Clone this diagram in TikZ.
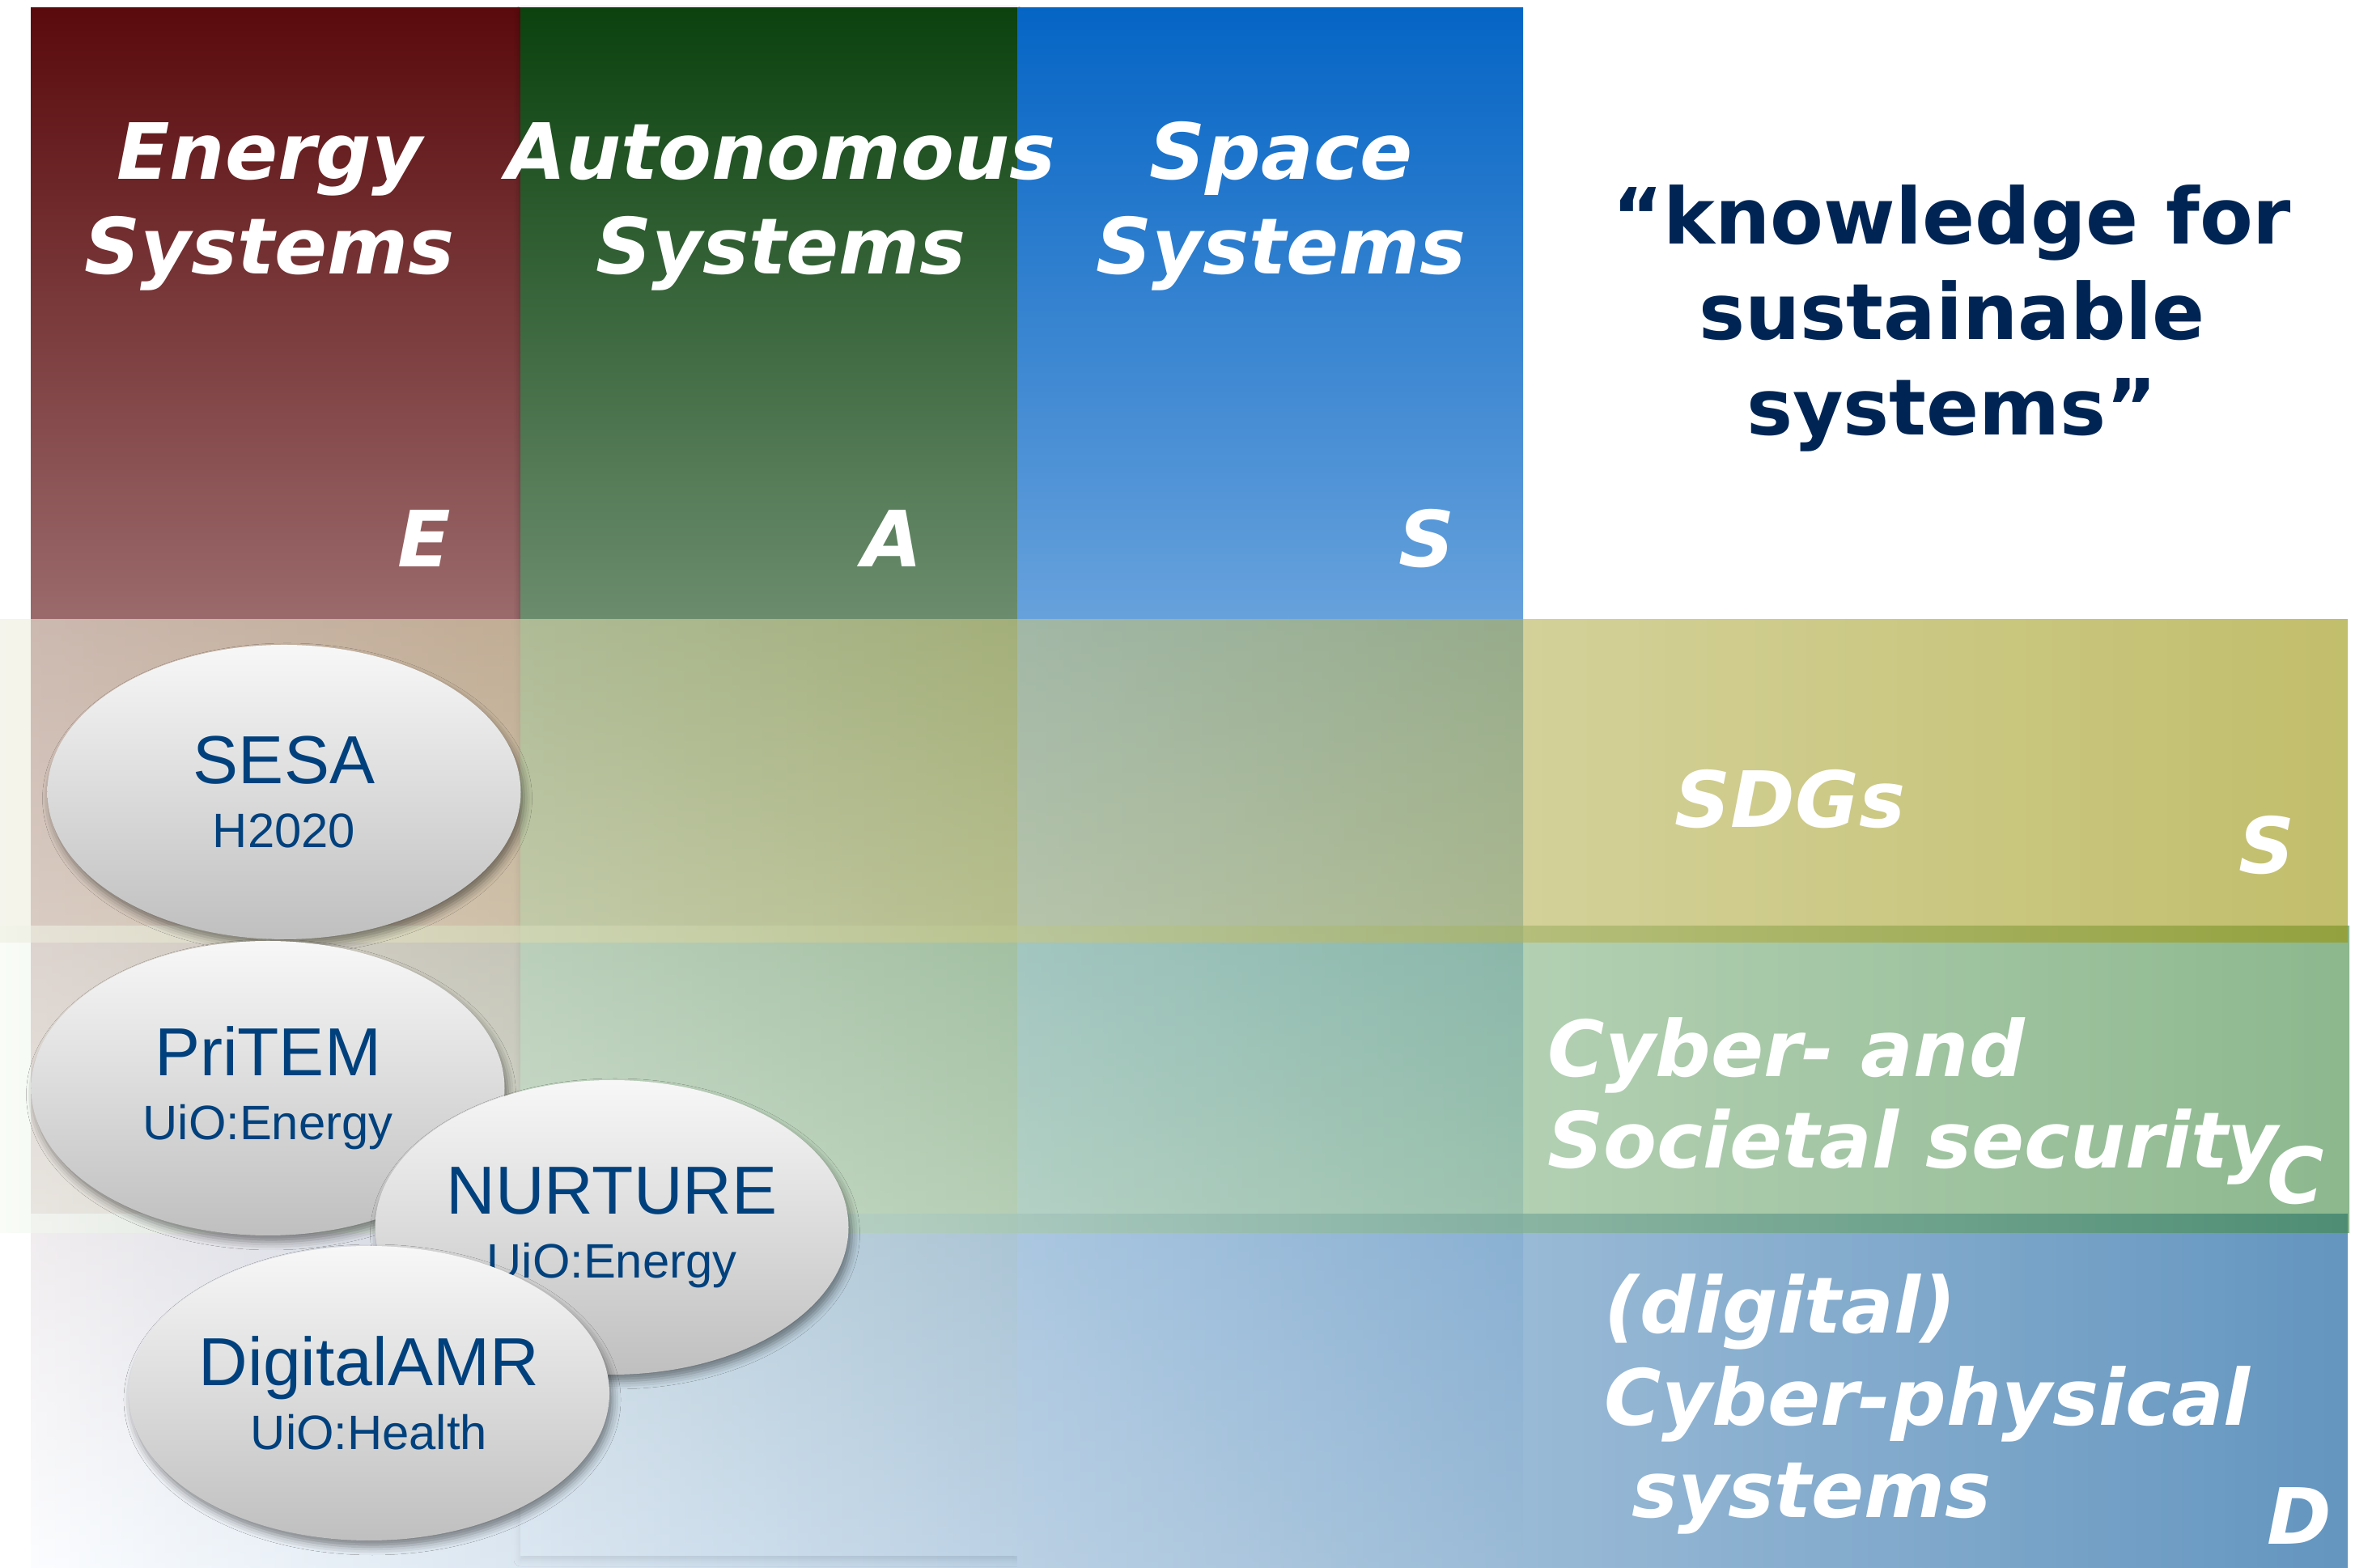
\documentclass[tikz,border=0pt]{standalone}
\usepackage{fontspec}
\usetikzlibrary{shapes.geometric,shadows.blur}
\newfontfamily\verdanafont{DejaVu Sans}[BoldFont={DejaVu Sans Bold},BoldItalicFont={DejaVu Sans Bold Oblique}]
\newfontfamily\arialfont{Liberation Sans}
\definecolor{redtop}{RGB}{90,10,12}
\definecolor{greentop}{RGB}{11,66,14}
\definecolor{bluetop}{RGB}{5,101,197}
\definecolor{sdgleft}{RGB}{238,238,224}
\definecolor{sdgright}{RGB}{153,147,10}
\definecolor{cyberleft}{RGB}{245,250,242}
\definecolor{cyberright}{RGB}{65,137,67}
\definecolor{digleft}{RGB}{250,252,255}
\definecolor{digright}{RGB}{34,105,165}
\definecolor{quoteblue}{RGB}{0,37,84}
\definecolor{projblue}{RGB}{0,65,125}
\newcommand{\ptitle}[1]{{\fontsize{23.9}{22.5}\selectfont #1}}
\begin{document}
\begin{tikzpicture}
        \tikzstyle{head} = [text=white, font=\verdanafont\bfseries\itshape\fontsize{27.3}{33.3}\selectfont, align=center, inner sep=0, anchor=base]
        \tikzstyle{tag} = [text=white, font=\verdanafont\bfseries\itshape\fontsize{27.3}{33.3}\selectfont, inner sep=0, anchor=base east]
        \tikzstyle{bandtext} = [text=white, font=\verdanafont\bfseries\itshape\fontsize{27.3}{32.3}\selectfont, align=left, inner sep=0, anchor=base west]
        \tikzstyle{quote} = [text=quoteblue, font=\verdanafont\bfseries\fontsize{27.3}{33.6}\selectfont, align=center, inner sep=0, anchor=base]
        \tikzstyle{proj} = [ellipse, minimum width=5.85cm, minimum height=3.64cm, inner sep=0, top color=white!97!black, bottom color=black!25, text=projblue, align=center, font=\arialfont\fontsize{17}{22.5}\selectfont, blur shadow={shadow xshift=0.4mm, shadow yshift=-0.8mm, shadow blur radius=1mm, shadow opacity=45}]
        \useasboundingbox (0,0) rectangle (29.10,19.37);
        \fill[white] (0,0) rectangle (29.10,19.37);
        % columns
        \shade[top color=redtop, bottom color=white] (0.38,0) rectangle (6.43,19.27);
        \shade[top color=greentop, bottom color=white, blur shadow={shadow xshift=0mm, shadow yshift=-0.6mm, shadow blur radius=0.8mm, shadow opacity=30}] (6.43,0.15) rectangle (12.57,19.27);
        \shade[top color=bluetop, bottom color=white] (12.57,0) rectangle (18.82,19.27);
        % bands
        \shade[left color=digleft, right color=digright, fill opacity=0.7] (0.38,0) rectangle (29.01,4.36);
        \shade[left color=cyberleft, right color=cyberright, fill opacity=0.6] (0,4.13) rectangle (29.03,7.92);
        \shade[left color=sdgleft, right color=sdgright, fill opacity=0.6] (0,7.72) rectangle (29.01,11.71);
        % projects
        \node[proj] (sesa) at (3.51,9.58) {\ptitle{SESA}\\H2020};
        \node[proj] (pritem) at (3.31,5.92) {\ptitle{PriTEM}\\UiO:Energy};
        \node[proj] (nurture) at (7.56,4.20) {\ptitle{NURTURE}\\UiO:Energy};
        \node[proj] (digamr) at (4.56,2.15) {\ptitle{DigitalAMR}\\UiO:Health};
        % labels (base = last line)
        \node[head] (energy) at (3.33,15.98) {Energy\\Systems};
        \node[head] (autonomous) at (9.65,15.98) {Autonomous\\Systems};
        \node[head] (space) at (15.83,15.98) {Space\\Systems};
        \node[tag] (tagE) at (5.58,12.36) {E};
        \node[tag] (tagA) at (11.40,12.36) {A};
        \node[tag] (tagS) at (17.98,12.36) {S};
        \node[quote] (motto) at (24.12,13.99) {“knowledge for\\sustainable\\systems”};
        \node[head] (sdgs) at (22.12,9.14) {SDGs};
        \node[tag] (tagSdg) at (28.36,8.57) {S};
        \node[bandtext] (cyber) at (19.12,4.93) {Cyber- and\\Societal security};
        \node[tag] (tagC) at (28.73,4.49) {C};
        \node[bandtext] (digital) at (19.82,0.62) {(digital)\\Cyber-physical\\\ systems};
        \node[tag] (tagD) at (28.82,0.29) {D};
\end{tikzpicture}
\end{document}
